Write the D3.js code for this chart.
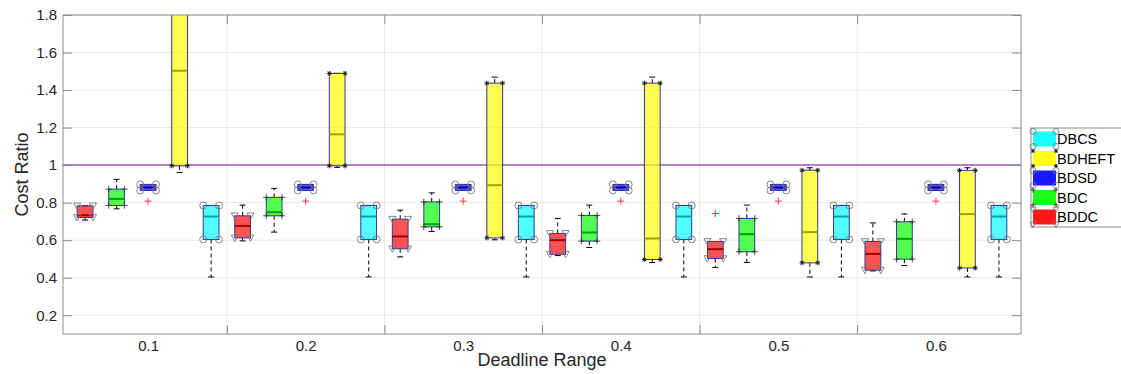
<!DOCTYPE html>
<html>
<head>
<meta charset="utf-8">
<script src="https://cdn.jsdelivr.net/npm/d3@7"></script>
<style>
  body { margin: 0; background: #fff; }
  svg { font-family: "Liberation Sans", Arial, sans-serif; }
</style>
</head>
<body>
<div id="chart"></div>
<script>
// groups on the x axis
var groups = ['0.1', '0.2', '0.3', '0.4', '0.5', '0.6'];
// draw order inside each group
var series = ['BDDC', 'BDC', 'BDSD', 'BDHEFT', 'DBCS'];
// legend order (top to bottom)
var legendOrder = ['DBCS', 'BDHEFT', 'BDSD', 'BDC', 'BDDC'];
var yTicks = [0.2, 0.4, 0.6, 0.8, 1, 1.2, 1.4, 1.6, 1.8];

// per group: [lower whisker, q1, median, q3, upper whisker]
var bddc = [
    [0.707, 0.721, 0.733, 0.783, 0.783],
    [0.596, 0.612, 0.676, 0.730, 0.787],
    [0.511, 0.554, 0.620, 0.712, 0.760],
    [0.518, 0.525, 0.600, 0.636, 0.716],
    [0.454, 0.502, 0.552, 0.593, 0.593],
    [0.436, 0.440, 0.527, 0.593, 0.692]
];
var bdc = [
    [0.767, 0.785, 0.820, 0.872, 0.924],
    [0.643, 0.730, 0.749, 0.828, 0.876],
    [0.646, 0.671, 0.685, 0.804, 0.852],
    [0.561, 0.595, 0.641, 0.732, 0.787],
    [0.481, 0.538, 0.632, 0.716, 0.787],
    [0.465, 0.499, 0.607, 0.698, 0.740]
];
var bdsd = [
    [0.865, 0.865, 0.881, 0.897, 0.897],
    [0.865, 0.865, 0.881, 0.897, 0.897],
    [0.865, 0.865, 0.881, 0.897, 0.897],
    [0.865, 0.865, 0.881, 0.897, 0.897],
    [0.865, 0.865, 0.881, 0.897, 0.897],
    [0.865, 0.865, 0.881, 0.897, 0.897]
];
var bdheft = [
    [0.961, 0.996, 1.503, 2.000, 2.000],
    [0.988, 0.996, 1.164, 1.489, 1.489],
    [0.602, 0.612, 0.893, 1.437, 1.469],
    [0.481, 0.497, 0.609, 1.437, 1.469],
    [0.404, 0.479, 0.643, 0.973, 0.986],
    [0.404, 0.452, 0.739, 0.972, 0.986]
];
var dbcs = [
    [0.404, 0.604, 0.726, 0.785, 0.785],
    [0.404, 0.604, 0.726, 0.785, 0.785],
    [0.404, 0.604, 0.726, 0.785, 0.785],
    [0.404, 0.604, 0.726, 0.785, 0.785],
    [0.404, 0.604, 0.726, 0.785, 0.785],
    [0.404, 0.604, 0.726, 0.785, 0.785]
];
// outliers per group (null = none)
var bddcOutliers = [null, null, null, null, 0.742, null];
var bdsdOutliers = [0.808, 0.808, 0.808, 0.808, 0.808, 0.808];
var refLine = 1;

var stats = { BDDC: bddc, BDC: bdc, BDSD: bdsd, BDHEFT: bdheft, DBCS: dbcs };
var outliers = { BDDC: bddcOutliers, BDSD: bdsdOutliers };
var colors = { DBCS: '#00ffff', BDHEFT: '#ffff00', BDSD: '#0000ff', BDC: '#00ff00', BDDC: '#ff0000' };
var corner = { DBCS: 'circle', BDHEFT: 'star', BDSD: 'circle', BDC: 'plus', BDDC: 'tri' };

var W = 1121, H = 374;
var plot = { left: 63, right: 1021, top: 15, bottom: 334 };

var svg = d3.select('#chart').append('svg')
    .attr('width', W)
    .attr('height', H);

// box positions 1..30, five per group
var x = d3.scaleLinear()
    .domain([0.3, 30.7])
    .range([plot.left, plot.right]);
var y = d3.scaleLinear()
    .domain([0.1, 1.8])
    .range([plot.bottom, plot.top]);

function pos(gi, si) { return gi * series.length + si + 1; }
var unit = x(1) - x(0);
var boxW = unit * 0.5;
var capW = boxW * 0.38;

svg.append('defs').append('clipPath').attr('id', 'clip')
    .append('rect')
    .attr('x', plot.left).attr('y', plot.top)
    .attr('width', plot.right - plot.left)
    .attr('height', plot.bottom - plot.top);

// grid
var grid = svg.append('g');
grid.selectAll('.hg').data(yTicks).enter().append('line')
    .attr('x1', plot.left).attr('x2', plot.right)
    .attr('y1', function(d) { return y(d); })
    .attr('y2', function(d) { return y(d); })
    .attr('stroke', '#e8e8e8');
var bounds = d3.range(1, groups.length).map(function(i) { return i * series.length + 0.5; });
grid.selectAll('.vg').data(bounds).enter().append('line')
    .attr('x1', function(d) { return x(d); })
    .attr('x2', function(d) { return x(d); })
    .attr('y1', plot.top).attr('y2', plot.bottom)
    .attr('stroke', '#e8e8e8');

// reference line
svg.append('line')
    .attr('x1', plot.left).attr('x2', plot.right)
    .attr('y1', y(refLine)).attr('y2', y(refLine))
    .attr('stroke', '#b283c4')
    .attr('stroke-width', 2);

function drawMarker(g, type, cx, cy, s) {
    if (type === 'circle') {
        g.append('circle').attr('cx', cx).attr('cy', cy).attr('r', s * 0.5)
            .attr('fill', 'none').attr('stroke', '#777').attr('stroke-width', 0.9);
    } else if (type === 'tri') {
        var h = s * 0.5;
        g.append('path')
            .attr('d', 'M' + (cx - h) + ',' + (cy - h * 0.8) + 'L' + (cx + h) + ',' + (cy - h * 0.8) + 'L' + cx + ',' + (cy + h) + 'Z')
            .attr('fill', 'none').attr('stroke', '#777').attr('stroke-width', 0.9);
    } else if (type === 'plus') {
        var p = s * 0.45;
        g.append('path')
            .attr('d', 'M' + (cx - p) + ',' + cy + 'H' + (cx + p) + 'M' + cx + ',' + (cy - p) + 'V' + (cy + p))
            .attr('stroke', '#333').attr('stroke-width', 0.9);
    } else if (type === 'star') {
        var r = s * 0.35;
        g.append('path')
            .attr('d', 'M' + (cx - r) + ',' + cy + 'H' + (cx + r) + 'M' + cx + ',' + (cy - r) + 'V' + (cy + r) +
                'M' + (cx - r * 0.7) + ',' + (cy - r * 0.7) + 'L' + (cx + r * 0.7) + ',' + (cy + r * 0.7) +
                'M' + (cx - r * 0.7) + ',' + (cy + r * 0.7) + 'L' + (cx + r * 0.7) + ',' + (cy - r * 0.7))
            .attr('stroke', '#222').attr('stroke-width', 1);
    }
}

// boxes
var boxes = svg.append('g').attr('clip-path', 'url(#clip)');
groups.forEach(function(grp, gi) {
    series.forEach(function(name, si) {
        var s = stats[name][gi];
        var cx = x(pos(gi, si));
        var g = boxes.append('g');
        var col = colors[name];

        // whiskers
        g.append('line')
            .attr('x1', cx).attr('x2', cx)
            .attr('y1', y(s[3])).attr('y2', y(s[4]))
            .attr('stroke', '#000').attr('stroke-dasharray', '4,3');
        g.append('line')
            .attr('x1', cx).attr('x2', cx)
            .attr('y1', y(s[1])).attr('y2', y(s[0]))
            .attr('stroke', '#000').attr('stroke-dasharray', '4,3');
        [s[0], s[4]].forEach(function(v) {
            g.append('line')
                .attr('x1', cx - capW / 2).attr('x2', cx + capW / 2)
                .attr('y1', y(v)).attr('y2', y(v))
                .attr('stroke', '#000');
        });

        g.append('rect')
            .attr('x', cx - boxW / 2)
            .attr('y', y(s[3]))
            .attr('width', boxW)
            .attr('height', y(s[1]) - y(s[3]))
            .attr('fill', col)
            .attr('fill-opacity', 0.68)
            .attr('stroke', '#34349a')
            .attr('stroke-width', 1);

        g.append('line')
            .attr('x1', cx - boxW / 2).attr('x2', cx + boxW / 2)
            .attr('y1', y(s[2])).attr('y2', y(s[2]))
            .attr('stroke', d3.rgb(col).darker(1.3))
            .attr('stroke-width', 2);

        [s[1], s[3]].forEach(function(v) {
            drawMarker(g, corner[name], cx - boxW / 2, y(v), 7);
            drawMarker(g, corner[name], cx + boxW / 2, y(v), 7);
        });

        var o = outliers[name] ? outliers[name][gi] : null;
        if (o !== null && o !== undefined) {
            g.append('path')
                .attr('d', 'M' + (cx - 3.5) + ',' + y(o) + 'H' + (cx + 3.5) + 'M' + cx + ',' + (y(o) - 3.5) + 'V' + (y(o) + 3.5))
                .attr('stroke', '#ff3b3b').attr('stroke-width', 1);
        }
    });
});

// axes
var axisCol = '#8c8c8c';
var yAxis = svg.append('g')
    .attr('transform', 'translate(' + plot.left + ',0)')
    .call(d3.axisLeft(y).tickValues(yTicks).tickSize(-9).tickPadding(6).tickFormat(d3.format('~g')));
var yAxisR = svg.append('g')
    .attr('transform', 'translate(' + plot.right + ',0)')
    .call(d3.axisRight(y).tickValues(yTicks).tickSize(-9).tickFormat(''));
var xAxisB = svg.append('g')
    .attr('transform', 'translate(0,' + plot.bottom + ')')
    .call(d3.axisBottom(x).tickValues(bounds).tickSize(-9).tickFormat(''));
var xAxisT = svg.append('g')
    .attr('transform', 'translate(0,' + plot.top + ')')
    .call(d3.axisTop(x).tickValues(bounds).tickSize(-9).tickFormat(''));
var xLabels = svg.append('g')
    .attr('transform', 'translate(0,' + plot.bottom + ')')
    .call(d3.axisBottom(x)
        .tickValues(groups.map(function(g, i) { return i * series.length + 3; }))
        .tickSize(0).tickPadding(6)
        .tickFormat(function(d, i) { return groups[i]; }));

[yAxis, yAxisR, xAxisB, xAxisT, xLabels].forEach(function(a) {
    a.select('.domain').remove();
    a.selectAll('.tick line').attr('stroke', axisCol);
    a.selectAll('.tick text')
        .attr('fill', '#262626')
        .style('font-size', '15px')
        .style('font-family', '"Liberation Sans", Arial, sans-serif');
});

svg.append('rect')
    .attr('x', plot.left).attr('y', plot.top)
    .attr('width', plot.right - plot.left)
    .attr('height', plot.bottom - plot.top)
    .attr('fill', 'none')
    .attr('stroke', axisCol);

// titles
svg.append('text')
    .attr('x', (plot.left + plot.right) / 2)
    .attr('y', 366)
    .attr('text-anchor', 'middle')
    .attr('fill', '#262626')
    .style('font-size', '18px')
    .text('Deadline Range');
svg.append('text')
    .attr('transform', 'translate(28,' + ((plot.top + plot.bottom) / 2) + ') rotate(-90)')
    .attr('text-anchor', 'middle')
    .attr('fill', '#262626')
    .style('font-size', '18px')
    .text('Cost Ratio');

// legend
var leg = svg.append('g').attr('transform', 'translate(1031,128)');
leg.append('rect')
    .attr('x', 0).attr('y', 0)
    .attr('width', 100).attr('height', 99)
    .attr('fill', '#fff')
    .attr('stroke', axisCol);
legendOrder.forEach(function(name, i) {
    var cy = 11 + i * 19.5;
    var it = leg.append('g');
    it.append('rect')
        .attr('x', 2).attr('y', cy - 7.5)
        .attr('width', 23).attr('height', 15)
        .attr('fill', colors[name])
        .attr('fill-opacity', 0.9);
    [cy - 7.5, cy + 7.5].forEach(function(yy) {
        drawMarker(it, corner[name], 2, yy, 6);
        drawMarker(it, corner[name], 25, yy, 6);
    });
    it.append('text')
        .attr('x', 26).attr('y', cy)
        .attr('dy', '0.36em')
        .attr('fill', '#000')
        .style('font-size', '14.5px')
        .text(name);
});
</script>
</body>
</html>
